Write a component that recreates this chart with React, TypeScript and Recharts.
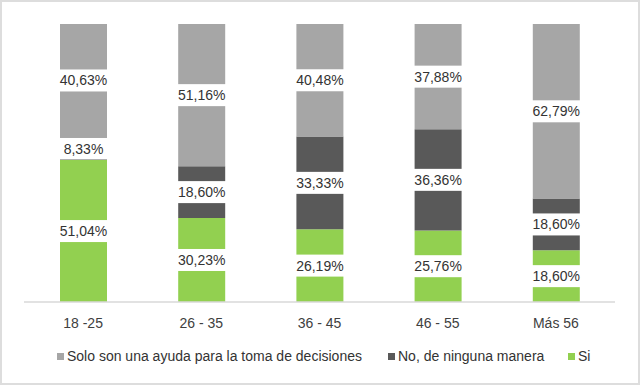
import React from "react";
import { BarChart, Bar, XAxis, YAxis, Legend, LabelList } from "recharts";

const categories = ["18 -25", "26 - 35", "36 - 45", "46 - 55", "Más 56"];
const si = [51.04, 30.23, 26.19, 25.76, 18.6];
const no = [8.33, 18.6, 33.33, 36.36, 18.6];
const solo = [40.63, 51.16, 40.48, 37.88, 62.79];

const seriesNames = {
  solo: "Solo son una ayuda para la toma de decisiones",
  no: "No, de ninguna manera",
  si: "Si",
};
const colors = { solo: "#A6A6A6", no: "#595959", si: "#92D050" };

const data = categories.map((c, i) => ({ cat: c, si: si[i], no: no[i], solo: solo[i] }));

const fmt = (v: number) => v.toFixed(2).replace(".", ",") + "%";

const BoxLabel = (props: any) => {
  const { x, y, width, height, value } = props;
  const cx = Number(x) + Number(width) / 2;
  const cy = Number(y) + Number(height) / 2;
  return (
    <g>
      <rect x={Number(x) - 1} y={cy - 11} width={Number(width) + 2} height={22} fill="#FFFFFF" />
      <text
        x={cx}
        y={cy}
        textAnchor="middle"
        dominantBaseline="central"
        fontSize={14}
        fontFamily="Liberation Sans, Arial, sans-serif"
        fill="#333333"
      >
        {fmt(Number(value))}
      </text>
    </g>
  );
};

const legendItems = [
  { key: "solo", x: 57 },
  { key: "no", x: 388 },
  { key: "si", x: 568 },
];

const LegendContent = () => (
  <div style={{ position: "relative", width: 640, height: 20 }}>
    {legendItems.map((it) => (
      <div
        key={it.key}
        style={{
          position: "absolute",
          left: it.x,
          top: 0,
          display: "flex",
          alignItems: "center",
          whiteSpace: "nowrap",
          fontFamily: "Liberation Sans, Arial, sans-serif",
          fontSize: 14,
          color: "#333333",
          lineHeight: "20px",
        }}
      >
        <span
          style={{
            display: "inline-block",
            width: 7,
            height: 7,
            background: (colors as any)[it.key],
            marginRight: 3,
          }}
        />
        <span>{(seriesNames as any)[it.key]}</span>
      </div>
    ))}
  </div>
);

export default function App() {
  return (
    <div
      style={{
        position: "absolute",
        left: 0,
        top: 0,
        width: 640,
        height: 385,
        boxSizing: "border-box",
        border: "2px solid #DDDDDD",
        background: "#FFFFFF",
      }}
    >
      <div style={{ position: "absolute", left: -2, top: -2 }}>
        <BarChart
          width={640}
          height={385}
          data={data}
          margin={{ top: 24, right: 25, left: 24, bottom: 0 }}
          barCategoryGap="30%"
        >
          <XAxis
            dataKey="cat"
            axisLine={{ stroke: "#D9D9D9", strokeWidth: 1.5 }}
            tickLine={false}
            tick={{ fill: "#404040", fontSize: 14, fontFamily: "Liberation Sans, Arial, sans-serif" }}
            tickMargin={10}
            height={40}
          />
          <YAxis hide domain={[0, 100]} allowDataOverflow />
          <Legend
            verticalAlign="bottom"
            height={43}
            content={<LegendContent />}
            wrapperStyle={{ left: 0, top: 346, width: 640 }}
          />
          <Bar dataKey="si" name={seriesNames.si} stackId="a" fill={colors.si} barSize={47} isAnimationActive={false}>
            <LabelList dataKey="si" content={<BoxLabel />} />
          </Bar>
          <Bar dataKey="no" name={seriesNames.no} stackId="a" fill={colors.no} barSize={47} isAnimationActive={false}>
            <LabelList dataKey="no" content={<BoxLabel />} />
          </Bar>
          <Bar dataKey="solo" name={seriesNames.solo} stackId="a" fill={colors.solo} barSize={47} isAnimationActive={false}>
            <LabelList dataKey="solo" content={<BoxLabel />} />
          </Bar>
        </BarChart>
      </div>
    </div>
  );
}
